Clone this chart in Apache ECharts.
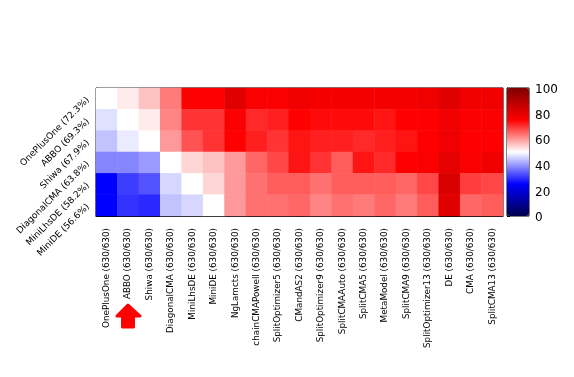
<!DOCTYPE html>
<html>
<head>
<meta charset="utf-8">
<style>html,body{margin:0;padding:0;background:#fff}#main{width:574px;height:377px}</style>
<script src="https://cdn.jsdelivr.net/npm/echarts@6/dist/echarts.min.js"></script>
</head>
<body>
<div id="main"></div>
<script>
// x轴算法名称
let xNames = ['OnePlusOne (630/630)', 'ABBO (630/630)', 'Shiwa (630/630)', 'DiagonalCMA (630/630)', 'MiniLhsDE (630/630)', 'MiniDE (630/630)', 'NgLamcts (630/630)', 'chainCMAPowell (630/630)', 'SplitOptimizer5 (630/630)', 'CMandAS2 (630/630)', 'SplitOptimizer9 (630/630)', 'SplitCMAAuto (630/630)', 'SplitCMA5 (630/630)', 'MetaModel (630/630)', 'SplitCMA9 (630/630)', 'SplitOptimizer13 (630/630)', 'DE (630/630)', 'CMA (630/630)', 'SplitCMA13 (630/630)'];
let yNames = ['OnePlusOne (72.3%)', 'ABBO (69.3%)', 'Shiwa (67.9%)', 'DiagonalCMA (63.8%)', 'MiniLhsDE (58.2%)', 'MiniDE (56.6%)'];
let colorTicks = [0, 20, 40, 60, 80, 100];

// 每行数值
let row0 = [50, 52, 56, 63, 75, 75, 81, 76, 76, 78, 77, 77, 77, 77, 77, 78, 81, 78, 78];
let row1 = [47, 50, 52, 62, 70, 70, 76, 71, 72, 75, 74, 74, 74, 73, 75, 75, 78, 76, 76];
let row2 = [44, 48, 50, 60, 67, 70, 75, 72, 70, 73, 72, 72, 71, 72, 73, 75, 78, 75, 75];
let row3 = [38, 38, 40, 50, 54, 56, 60, 65, 68, 73, 70, 66, 73, 71, 75, 76, 80, 76, 78];
let row4 = [25, 31, 33, 46, 50, 54, 60, 64, 66, 66, 64, 66, 66, 66, 65, 68, 82, 69, 68];
let row5 = [25, 30, 29, 44, 46, 50, 60, 64, 64, 65, 62, 64, 63, 65, 63, 66, 81, 65, 66];
let rows = [row0, row1, row2, row3, row4, row5];

let heatData = [];
rows.forEach((row, y) => {
    row.forEach((v, x) => {
        heatData.push([x, y, v]);
    });
});

let fontName = '"DejaVu Sans"';
let myChart = echarts.init(document.getElementById('main'));

let option = {
    animation: false,
    backgroundColor: '#fff',
    grid: [
        {left: 96, top: 88, width: 407, height: 128, show: true, borderColor: '#000', borderWidth: 1, backgroundColor: 'transparent'},
        {left: 507, top: 88, width: 22, height: 128, show: true, borderColor: '#000', borderWidth: 1, backgroundColor: 'transparent'}
    ],
    xAxis: [
        {
            type: 'category',
            gridIndex: 0,
            data: xNames,
            splitArea: {show: false},
            axisLine: {lineStyle: {color: '#000', width: 1}},
            axisTick: {alignWithLabel: true, length: 3, lineStyle: {color: '#000'}},
            axisLabel: {interval: 0, rotate: 90, fontSize: 8.8, color: '#000', fontFamily: fontName, margin: 12}
        },
        {type: 'value', gridIndex: 1, min: 0, max: 1, axisLine: {show: false}, axisTick: {show: false}, axisLabel: {show: false}, splitLine: {show: false}}
    ],
    yAxis: [
        {
            type: 'category',
            gridIndex: 0,
            inverse: true,
            data: yNames,
            axisLine: {lineStyle: {color: '#000', width: 1}},
            axisTick: {alignWithLabel: true, length: 3, lineStyle: {color: '#000'}},
            axisLabel: {interval: 0, rotate: 45, fontSize: 9, color: '#000', fontFamily: fontName, margin: 8}
        },
        {
            type: 'value',
            gridIndex: 1,
            position: 'right',
            min: colorTicks[0],
            max: colorTicks[colorTicks.length - 1],
            interval: 20,
            axisLine: {show: true, lineStyle: {color: '#000'}},
            axisTick: {show: true, length: 3, lineStyle: {color: '#000'}},
            axisLabel: {
                color: '#000',
                margin: 6,
                formatter: '{a|{value}}',
                rich: {a: {fontSize: 12, color: '#000', fontFamily: fontName, padding: [4, 0, 0, 0]}}
            },
            splitLine: {show: false}
        }
    ],
    visualMap: {
        type: 'continuous',
        min: 0,
        max: 100,
        seriesIndex: 0,
        calculable: false,
        show: true,
        left: 507,
        top: 88,
        itemWidth: 22,
        itemHeight: 128,
        padding: 0,
        text: null,
        showLabel: false,
        textStyle: {fontSize: 0},
        inRange: {color: ['#00004d', '#0000ff', '#ffffff', '#ff0000', '#800000']}
    },
    series: [{
        type: 'heatmap',
        xAxisIndex: 0,
        yAxisIndex: 0,
        data: heatData,
        z: 1,
        itemStyle: {borderWidth: 0},
        emphasis: {disabled: true}
    }],
    // 红色箭头
    graphic: [{
        type: 'polygon',
        shape: {points: [[128, 305], [140, 316], [133.5, 316], [133.5, 327], [122.5, 327], [122.5, 316], [117, 316]]},
        style: {fill: '#ff0000', stroke: '#ff0000', lineWidth: 3, lineJoin: 'round'},
        z: 10
    }]
};

myChart.setOption(option);
</script>
</body>
</html>
